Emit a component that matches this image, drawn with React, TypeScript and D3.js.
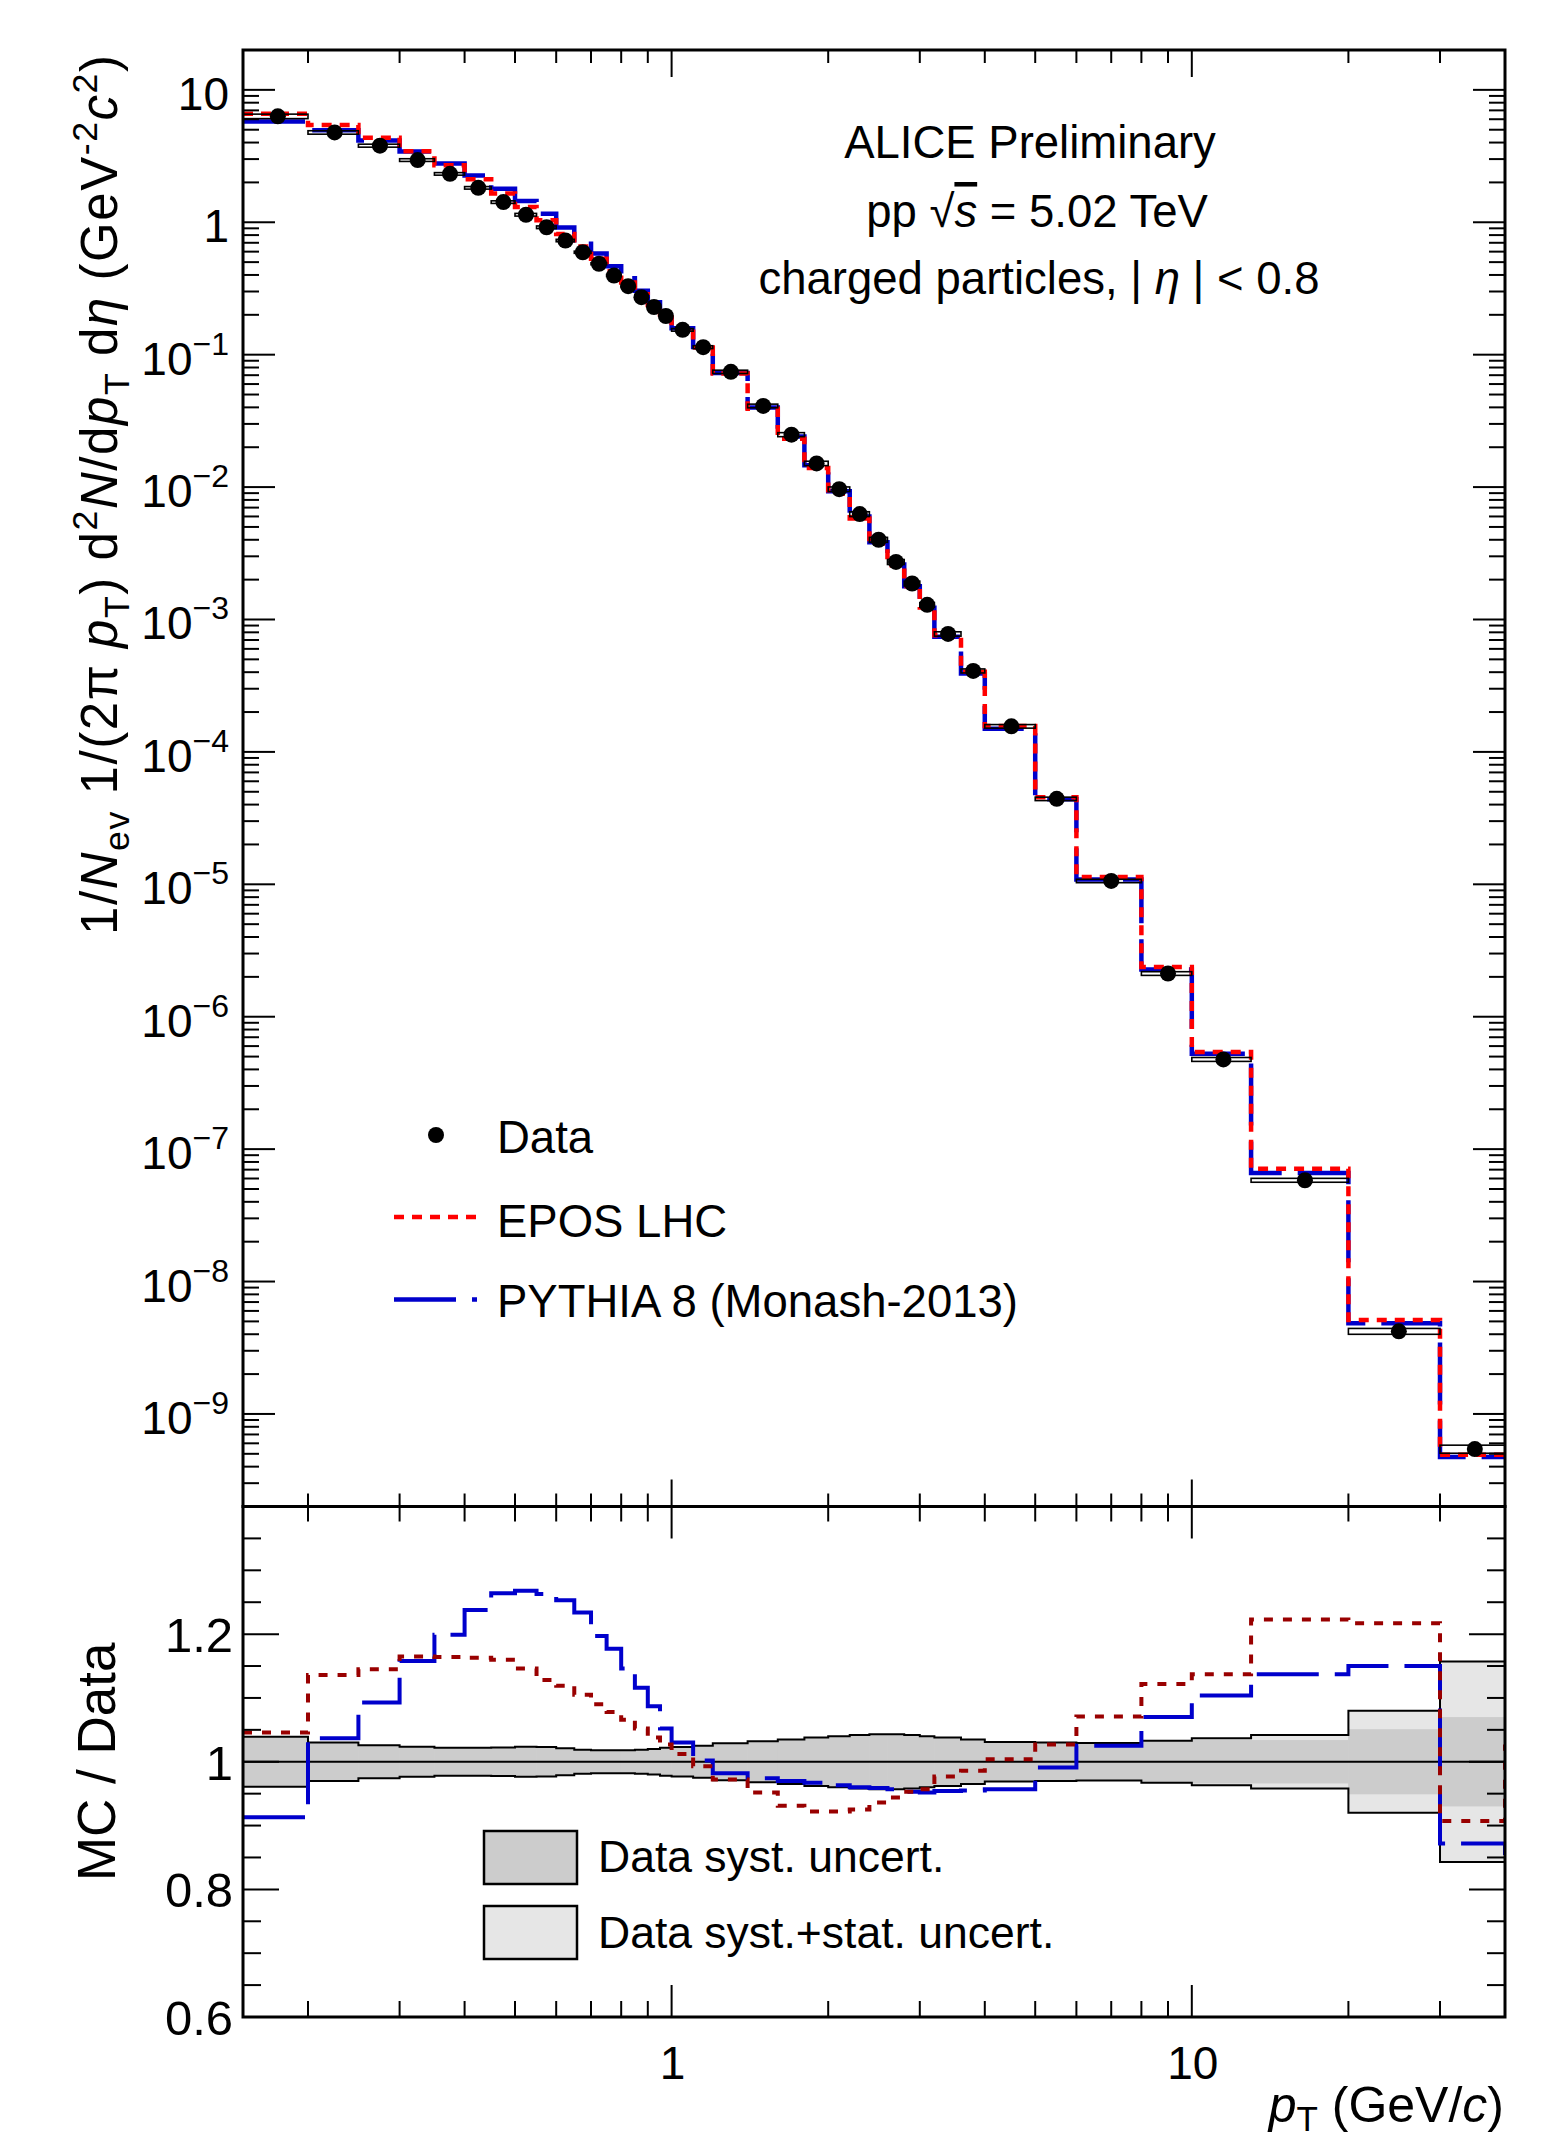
import React, { useEffect, useRef } from 'react';
import * as d3 from 'd3';

// pT bin edges (GeV/c)
const binEdges = [
  0.15, 0.2, 0.25, 0.3, 0.35, 0.4, 0.45, 0.5, 0.55, 0.6, 0.65, 0.7, 0.75, 0.8, 0.85, 0.9, 0.95, 1.0,
  1.1, 1.2, 1.4, 1.6, 1.8, 2.0, 2.2, 2.4, 2.6, 2.8, 3.0, 3.2, 3.6, 4.0, 5.0, 6.0, 8.0, 10, 13, 20, 30, 40,
];

// measured spectrum, one value per bin
const dataValues = [
  6.31, 4.77, 3.79, 2.95, 2.32, 1.82, 1.42, 1.14, 0.917, 0.728, 0.594, 0.486, 0.396, 0.329, 0.272, 0.229,
  0.196, 0.154, 0.114, 0.0742, 0.041, 0.0249, 0.0151, 0.00964, 0.00625, 0.004, 0.00272, 0.00187, 0.00129,
  7.78e-4, 4.09e-4, 1.56e-4, 4.42e-5, 1.06e-5, 2.12e-6, 4.76e-7, 5.82e-8, 4.21e-9, 5.43e-10,
];

// MC / data
const eposRatio = [
  1.046, 1.136, 1.145, 1.165, 1.164, 1.163, 1.16, 1.146, 1.128, 1.119, 1.105, 1.09, 1.078, 1.066, 1.052,
  1.038, 1.027, 1.012, 0.993, 0.972, 0.952, 0.931, 0.922, 0.922, 0.925, 0.936, 0.944, 0.953, 0.957, 0.977,
  0.986, 1.004, 1.027, 1.071, 1.122, 1.137, 1.223, 1.217, 0.907,
];
const pythiaRatio = [
  0.913, 1.037, 1.093, 1.158, 1.199, 1.238, 1.264, 1.268, 1.263, 1.253, 1.234, 1.197, 1.177, 1.146, 1.116,
  1.087, 1.052, 1.03, 1.002, 0.982, 0.974, 0.97, 0.967, 0.963, 0.96, 0.959, 0.957, 0.953, 0.952, 0.954,
  0.955, 0.957, 0.991, 1.025, 1.07, 1.104, 1.137, 1.15, 0.872,
];
// next bin (beyond 40 GeV/c), only its rising edge is visible
const eposOverflow = 1.027;
const pythiaOverflow = 0.854;

// relative uncertainties
const systUnc = [
  0.039, 0.03, 0.026, 0.0235, 0.022, 0.022, 0.0225, 0.0235, 0.023, 0.021, 0.019, 0.018, 0.018, 0.018, 0.019,
  0.02, 0.022, 0.023, 0.025, 0.029, 0.032, 0.035, 0.038, 0.04, 0.042, 0.043, 0.043, 0.042, 0.04, 0.038,
  0.035, 0.031, 0.03, 0.0295, 0.032, 0.034, 0.034, 0.051, 0.07,
];
const totalUnc = [
  0.039, 0.03, 0.026, 0.0235, 0.022, 0.022, 0.0225, 0.0235, 0.023, 0.021, 0.019, 0.018, 0.018, 0.018, 0.019,
  0.02, 0.022, 0.023, 0.025, 0.029, 0.032, 0.035, 0.038, 0.04, 0.042, 0.043, 0.043, 0.042, 0.04, 0.038,
  0.035, 0.031, 0.03, 0.0295, 0.033, 0.037, 0.042, 0.08, 0.157,
];

const topExponents = [1, 0, -1, -2, -3, -4, -5, -6, -7, -8, -9];
const ratioTicks = [0.6, 0.8, 1, 1.2];
const ratioTickLabels = ['0.6', '0.8', '1', '1.2'];
const xTickLabels = [1, 10];

const FONT = "'Liberation Sans', Arial, Helvetica, sans-serif";
const BLUE = '#0000cc';
const RED = '#ff0000';
const DARKRED = '#990000';

type Piece = { t: string; it?: boolean; sub?: boolean; sup?: boolean };

const App = () => {
  const svgRef = useRef<SVGSVGElement>(null);

  useEffect(() => {
    const svg = d3.select(svgRef.current);
    svg.selectAll('*').remove();

    const L = 243, R = 1505, T = 50, M = 1506.5, B = 2017;
    const x = d3.scaleLog().domain([0.15, 40]).range([L, R]);
    const yTop = d3.scaleLog().domain([2e-10, 20]).range([M, T]);
    const yRat = d3.scaleLinear().domain([0.6, 1.4]).range([B, M]);

    const defs = svg.append('defs');
    defs.append('clipPath').attr('id', 'clipTop')
      .append('rect').attr('x', L).attr('y', T).attr('width', R - L).attr('height', M - T);
    defs.append('clipPath').attr('id', 'clipRat')
      .append('rect').attr('x', L).attr('y', M).attr('width', R - L).attr('height', B - M);

    const n = dataValues.length;
    const centers = dataValues.map((_, i) => (binEdges[i] + binEdges[i + 1]) / 2);

    // histogram-style step lines
    const stepLine = (vals: number[], y: (v: number) => number, overflow?: number) => {
      const pts: [number, number][] = vals.map((v, i) => [binEdges[i], v]);
      pts.push([binEdges[n], vals[n - 1]]);
      if (overflow !== undefined) pts.push([binEdges[n], overflow]);
      return d3.line<[number, number]>()
        .x((d) => x(d[0]))
        .y((d) => y(d[1]))
        .curve(d3.curveStepAfter)(pts);
    };

    // rich text helper (italic, sub, sup)
    const rich = (sel: any, pieces: Piece[], size: number, subShift: number, supShift: number) => {
      let cur = 0;
      pieces.forEach((p) => {
        const target = p.sub ? subShift : p.sup ? -supShift : 0;
        const ts = sel.append('tspan').text(p.t).attr('dy', target - cur);
        cur = target;
        if (p.it) ts.attr('font-style', 'italic');
        if (p.sub || p.sup) ts.attr('font-size', size * 0.7);
      });
    };

    // ---------- top panel ----------
    const gTop = svg.append('g').attr('clip-path', 'url(#clipTop)');
    const pythiaTop = dataValues.map((v, i) => v * pythiaRatio[i]);
    const eposTop = dataValues.map((v, i) => v * eposRatio[i]);

    gTop.append('path').attr('d', stepLine(pythiaTop, yTop)).attr('fill', 'none')
      .attr('stroke', BLUE).attr('stroke-width', 4.5).attr('stroke-dasharray', '62 16');
    gTop.append('path').attr('d', stepLine(eposTop, yTop)).attr('fill', 'none')
      .attr('stroke', RED).attr('stroke-width', 4.5).attr('stroke-dasharray', '10 8');

    // data syst boxes
    gTop.append('g').selectAll('rect').data(dataValues).enter().append('rect')
      .attr('x', (_, i) => x(binEdges[i]))
      .attr('width', (_, i) => x(binEdges[i + 1]) - x(binEdges[i]))
      .attr('y', (d, i) => yTop(d * (1 + systUnc[i])))
      .attr('height', (d, i) => yTop(d * (1 - systUnc[i])) - yTop(d * (1 + systUnc[i])))
      .attr('fill', 'none').attr('stroke', '#000').attr('stroke-width', 1.6);
    gTop.append('g').selectAll('circle').data(dataValues).enter().append('circle')
      .attr('cx', (_, i) => x(centers[i])).attr('cy', (d) => yTop(d)).attr('r', 8).attr('fill', '#000');

    // ---------- ratio panel ----------
    const gRat = svg.append('g').attr('clip-path', 'url(#clipRat)');
    gRat.append('g').selectAll('rect').data(totalUnc).enter().append('rect')
      .attr('x', (_, i) => x(binEdges[i]))
      .attr('width', (_, i) => x(binEdges[i + 1]) - x(binEdges[i]))
      .attr('y', (u) => yRat(1 + u)).attr('height', (u) => yRat(1 - u) - yRat(1 + u))
      .attr('fill', '#e6e6e6');
    gRat.append('g').selectAll('rect').data(systUnc).enter().append('rect')
      .attr('x', (_, i) => x(binEdges[i]) - 0.3)
      .attr('width', (_, i) => x(binEdges[i + 1]) - x(binEdges[i]) + 0.6)
      .attr('y', (u) => yRat(1 + u)).attr('height', (u) => yRat(1 - u) - yRat(1 + u))
      .attr('fill', '#cccccc');
    [1, -1].forEach((s) => {
      gRat.append('path').attr('d', stepLine(totalUnc.map((u) => 1 + s * u), yRat))
        .attr('fill', 'none').attr('stroke', '#000').attr('stroke-width', 2);
    });
    gRat.append('line').attr('x1', L).attr('x2', R).attr('y1', yRat(1)).attr('y2', yRat(1))
      .attr('stroke', '#000').attr('stroke-width', 2);

    gRat.append('path').attr('d', stepLine(pythiaRatio, yRat, pythiaOverflow)).attr('fill', 'none')
      .attr('stroke', BLUE).attr('stroke-width', 4).attr('stroke-dasharray', '62 16');
    gRat.append('path').attr('d', stepLine(eposRatio, yRat, eposOverflow)).attr('fill', 'none')
      .attr('stroke', DARKRED).attr('stroke-width', 4).attr('stroke-dasharray', '9 10');

    // ---------- frames and ticks ----------
    const axes = svg.append('g').attr('stroke', '#000').attr('stroke-width', 2);
    const tick = (x1: number, y1: number, x2: number, y2: number) =>
      axes.append('line').attr('x1', x1).attr('y1', y1).attr('x2', x2).attr('y2', y2);

    const xMinor: number[] = [];
    [0.1, 1, 10].forEach((dec) => d3.range(1, 10).forEach((m) => {
      const v = m * dec;
      if (v > 0.15 && v < 40 && m !== 1) xMinor.push(v);
    }));
    xMinor.forEach((v) => {
      tick(x(v), T, x(v), T + 13);
      tick(x(v), M, x(v), M - 13);
      tick(x(v), M, x(v), M + 15);
      tick(x(v), B, x(v), B - 16);
    });
    xTickLabels.forEach((v) => {
      tick(x(v), T, x(v), T + 27);
      tick(x(v), M, x(v), M - 27);
      tick(x(v), M, x(v), M + 32);
      tick(x(v), B, x(v), B - 32);
    });

    d3.range(-10, 2).forEach((k) => d3.range(1, 10).forEach((m) => {
      const v = m * Math.pow(10, k);
      if (v < 2e-10 || v > 20) return;
      const len = m === 1 ? 32 : 16;
      tick(L, yTop(v), L + len, yTop(v));
      tick(R, yTop(v), R - len, yTop(v));
    }));
    d3.range(0, 17).forEach((j) => {
      const v = 0.6 + j * 0.05;
      const len = j % 4 === 0 ? 36 : 18;
      tick(L, yRat(v), L + len, yRat(v));
      tick(R, yRat(v), R - len, yRat(v));
    });

    svg.append('rect').attr('x', L).attr('y', T).attr('width', R - L).attr('height', M - T)
      .attr('fill', 'none').attr('stroke', '#000').attr('stroke-width', 3);
    svg.append('rect').attr('x', L).attr('y', M).attr('width', R - L).attr('height', B - M)
      .attr('fill', 'none').attr('stroke', '#000').attr('stroke-width', 3);

    // ---------- labels ----------
    const txt = svg.append('g').attr('font-family', FONT).attr('fill', '#000')
      .style('white-space', 'pre');

    topExponents.forEach((k) => {
      const t = txt.append('text').attr('x', 229).attr('y', yTop(Math.pow(10, k)) + 20)
        .attr('text-anchor', 'end').attr('font-size', 46);
      if (k === 1) t.text('10');
      else if (k === 0) t.text('1');
      else {
        t.append('tspan').text('10');
        t.append('tspan').text('\u2212' + Math.abs(k)).attr('font-size', 32).attr('dy', -20);
      }
    });
    ratioTicks.forEach((v, i) => {
      txt.append('text').attr('x', 233).attr('y', yRat(v) + 18).attr('text-anchor', 'end')
        .attr('font-size', 49).text(ratioTickLabels[i]);
    });
    xTickLabels.forEach((v) => {
      txt.append('text').attr('x', x(v) + 1).attr('y', 2079).attr('text-anchor', 'middle')
        .attr('font-size', 46).text(String(v));
    });

    // axis titles
    const yTitle = txt.append('text').attr('transform', 'translate(117,55) rotate(-90)')
      .attr('text-anchor', 'end').attr('font-size', 51)
      .attr('textLength', 880).attr('lengthAdjust', 'spacing');
    rich(yTitle, [
      { t: '1/' }, { t: 'N', it: true }, { t: 'ev', sub: true }, { t: ' 1/(2\u03c0 ' }, { t: 'p', it: true },
      { t: 'T', sub: true }, { t: ') d' }, { t: '2', sup: true }, { t: 'N', it: true }, { t: '/d' },
      { t: 'p', it: true }, { t: 'T', sub: true }, { t: ' d' }, { t: '\u03b7', it: true }, { t: '  (GeV' },
      { t: '-2', sup: true }, { t: 'c', it: true }, { t: '2', sup: true }, { t: ')' },
    ], 51, 12, 20);

    txt.append('text').attr('transform', `translate(115,${yRat(1)}) rotate(-90)`)
      .attr('text-anchor', 'middle').attr('font-size', 53).text('MC / Data');

    const xTitle = txt.append('text').attr('x', 1504).attr('y', 2122).attr('text-anchor', 'end')
      .attr('font-size', 50);
    rich(xTitle, [{ t: 'p', it: true }, { t: 'T', sub: true }, { t: ' (GeV/' }, { t: 'c', it: true }, { t: ')' }],
      50, 9, 20);

    // annotation
    txt.append('text').attr('x', 1030).attr('y', 158).attr('text-anchor', 'middle').attr('font-size', 45.5)
      .text('ALICE Preliminary');
    const ann2 = txt.append('text').attr('x', 1037).attr('y', 227).attr('text-anchor', 'middle')
      .attr('font-size', 45.5);
    ann2.append('tspan').text('pp  \u221a');
    ann2.append('tspan').text('s').attr('font-style', 'italic').style('text-decoration', 'overline');
    ann2.append('tspan').text(' = 5.02 TeV');
    const ann3 = txt.append('text').attr('x', 1039).attr('y', 294).attr('text-anchor', 'middle')
      .attr('font-size', 45.5);
    ann3.append('tspan').text('charged particles, | ');
    ann3.append('tspan').text('\u03b7').attr('font-style', 'italic');
    ann3.append('tspan').text(' | < 0.8');

    // legend (top)
    svg.append('circle').attr('cx', 436).attr('cy', 1135).attr('r', 8).attr('fill', '#000');
    svg.append('line').attr('x1', 394).attr('x2', 477).attr('y1', 1217).attr('y2', 1217)
      .attr('stroke', RED).attr('stroke-width', 4.5).attr('stroke-dasharray', '10 8');
    svg.append('line').attr('x1', 394).attr('x2', 477).attr('y1', 1299.5).attr('y2', 1299.5)
      .attr('stroke', BLUE).attr('stroke-width', 4.5).attr('stroke-dasharray', '62 16');
    [['Data', 1153], ['EPOS LHC', 1237], ['PYTHIA 8 (Monash-2013)', 1317]].forEach(([s, yy]) => {
      txt.append('text').attr('x', 497).attr('y', yy as number).attr('font-size', 45.5).text(s as string);
    });

    // legend (ratio)
    [['#cccccc', 1831, 'Data syst. uncert.', 1872], ['#e6e6e6', 1906, 'Data syst.+stat. uncert.', 1947.5]]
      .forEach(([fill, yy, s, by]) => {
        svg.append('rect').attr('x', 484).attr('y', yy as number).attr('width', 93).attr('height', 53)
          .attr('fill', fill as string).attr('stroke', '#000').attr('stroke-width', 2.5);
        txt.append('text').attr('x', 598).attr('y', by as number).attr('font-size', 44.5).text(s as string);
      });
  }, []);

  return (
    <svg
      ref={svgRef}
      width={1554}
      height={2142}
      style={{ position: 'absolute', left: 0, top: 0, background: '#fff' }}
    />
  );
};

export default App;
